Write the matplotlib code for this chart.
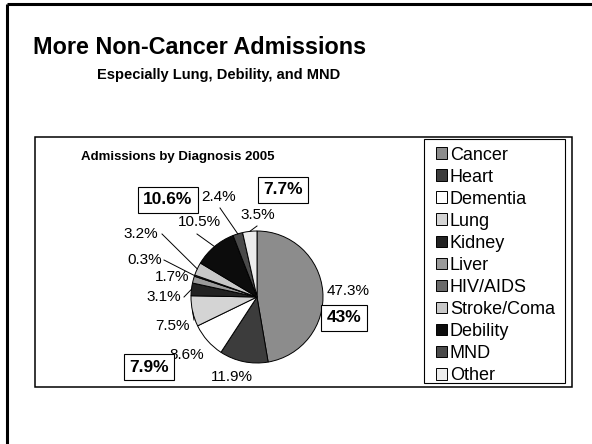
import numpy as np
import matplotlib.pyplot as plt
from matplotlib.patches import Rectangle

plt.rcParams['font.family'] = ['Liberation Sans', 'DejaVu Sans']

# data
categories = ['Cancer', 'Heart', 'Dementia', 'Lung', 'Kidney', 'Liver',
              'HIV/AIDS', 'Stroke/Coma', 'Debility', 'MND', 'Other']
shares = [47.3, 11.9, 8.6, 7.5, 3.1, 1.7, 0.3, 3.2, 10.5, 2.4, 3.5]
colors = ['#8c8c8c', '#3c3c3c', '#ffffff', '#d4d4d4', '#222222', '#9a9a9a',
          '#6a6a6a', '#c8c8c8', '#0c0c0c', '#4a4a4a', '#ececec']
boxed_labels = ['43%', '7.9%', '10.6%', '7.7%']

W, H = 592, 444
fig = plt.figure(figsize=(W / 100, H / 100), dpi=100)
ax = fig.add_axes([0, 0, 1, 1])

def py(y):
    # pixel row (top down) -> data y
    return H - y

cx, cy, r = 257, py(297), 66
wedges, _ = ax.pie(shares, colors=colors, startangle=90, counterclock=False,
                   center=(cx, cy), radius=r,
                   wedgeprops=dict(edgecolor='black', linewidth=0.7))
ax.set_xlim(0, W)
ax.set_ylim(0, H)
ax.axis('off')

# percent labels: text position and optional leader start (pixels)
label_pos = [(348, 291), (232, 377), (187, 355), (172, 326), (164, 297),
             (172, 277), (145, 260), (141, 234), (199, 222), (219, 197), (258, 215)]
leader_start = [None, None, None, (194, 320), (184, 297), None,
                (164, 260), (162, 234), (197, 234), (220, 208), (257, 226)]

angles = 90 - np.cumsum([0] + shares) / 100 * 360
for i, s in enumerate(shares):
    tx, ty = label_pos[i]
    ax.text(tx, py(ty), f'{s}%', fontsize=11, ha='center', va='center')
    if leader_start[i] is not None:
        mid = np.deg2rad((angles[i] + angles[i + 1]) / 2)
        ex, ey = cx + r * np.cos(mid), cy + r * np.sin(mid)
        sx, sy = leader_start[i]
        ax.plot([sx, ex], [py(sy), ey], color='black', lw=0.7)

# boxed comparison figures
box_pos = [(344, 318), (149, 367), (168, 200), (283, 190)]
for txt, (bx, by) in zip(boxed_labels, box_pos):
    ax.text(bx, py(by), txt, fontsize=12.5, fontweight='bold', ha='center', va='center',
            bbox=dict(boxstyle='square,pad=0.3', fc='white', ec='black', lw=0.8))

# frames
ax.add_patch(Rectangle((35, py(387)), 537, 250, fill=False, ec='black', lw=1.1))
ax.add_patch(Rectangle((424, py(383)), 141, 244, fc='white', ec='black', lw=0.8))
ax.plot([7, 7], [0, py(4)], color='black', lw=2.2, solid_capstyle='butt')
ax.plot([7, W], [py(4), py(4)], color='black', lw=2.2, solid_capstyle='butt')

# titles
ax.text(33, py(48), 'More Non-Cancer Admissions', fontsize=16.8, fontweight='bold',
        ha='left', va='center')
ax.text(97, py(75), 'Especially Lung, Debility, and MND', fontsize=10.5, fontweight='bold',
        ha='left', va='center')
ax.text(178, py(157), 'Admissions by Diagnosis 2005', fontsize=9.5, fontweight='bold',
        ha='center', va='center')

leg = ax.legend(wedges, categories, loc='upper left',
                bbox_to_anchor=(436 / W, py(146.5) / H), fontsize=13,
                frameon=False, handlelength=0.62, handleheight=0.62, handletextpad=0.15,
                labelspacing=0.28, borderpad=0, borderaxespad=0)

fig.savefig('out.png', dpi=100)
